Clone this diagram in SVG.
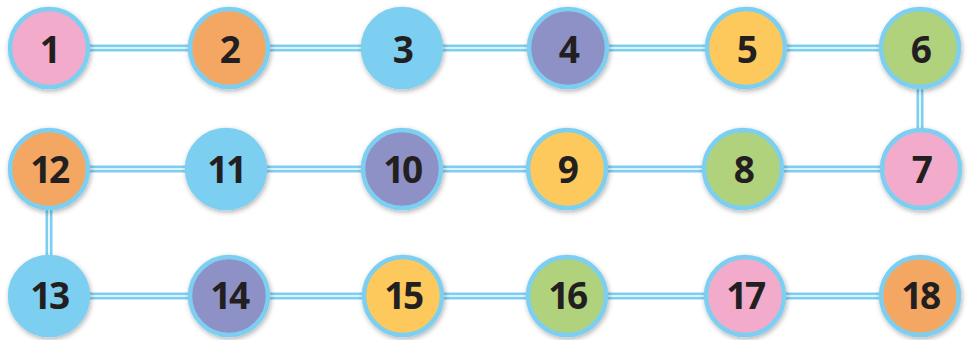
<svg xmlns="http://www.w3.org/2000/svg" width="970" height="340" viewBox="0 0 970 340">
<style>
.n{stroke:#7dcff2;stroke-width:4.5;filter:url(#sh)}
.t{font-family:"Open Sans","DejaVu Sans",sans-serif;font-weight:bold;font-size:37px;letter-spacing:-2.5px;fill:#231f20;text-anchor:middle}
.c1{stroke:#7dcff2;stroke-width:7;fill:none}
.c2{stroke:#ffffff;stroke-width:1.6;fill:none}
.pink{fill:#f3abcc}.orange{fill:#f4a764}.blue{fill:#7dcff2}.purple{fill:#8e91c6}.yellow{fill:#fdc95c}.green{fill:#b0d27b}
</style>
<defs>
<filter id="sh" x="-30%" y="-30%" width="160%" height="160%">
<feDropShadow dx="1" dy="2" stdDeviation="2.5" flood-color="#000" flood-opacity="0.3"/>
</filter>
</defs>
<g id="connectors">
<path class="c1" d="M49,48H920M920,48V169M49,169H920M49,169V296M49,296H920"/>
<path class="c2" d="M49,48H920M920,48V169M49,169H920M49,169V296M49,296H920"/>
</g>
<g id="n1"><circle class="n pink" cx="49" cy="48" r="39"/><text class="t" x="49" y="63">1</text></g>
<g id="n2"><circle class="n orange" cx="229" cy="48" r="39"/><text class="t" x="229" y="63">2</text></g>
<g id="n3"><circle class="n blue" cx="402" cy="48" r="39"/><text class="t" x="402" y="63">3</text></g>
<g id="n4"><circle class="n purple" cx="568" cy="48" r="39"/><text class="t" x="568" y="63">4</text></g>
<g id="n5"><circle class="n yellow" cx="746" cy="48" r="39"/><text class="t" x="746" y="63">5</text></g>
<g id="n6"><circle class="n green" cx="920" cy="48" r="39"/><text class="t" x="920" y="63">6</text></g>
<g id="n7"><circle class="n pink" cx="921" cy="169" r="39"/><text class="t" x="921" y="183">7</text></g>
<g id="n8"><circle class="n green" cx="743" cy="169" r="39"/><text class="t" x="743" y="183">8</text></g>
<g id="n9"><circle class="n yellow" cx="567" cy="169" r="39"/><text class="t" x="567" y="183">9</text></g>
<g id="n10"><circle class="n purple" cx="402" cy="169" r="39"/><text class="t" x="402" y="183">10</text></g>
<g id="n11"><circle class="n blue" cx="226" cy="169" r="39"/><text class="t" x="226" y="183">11</text></g>
<g id="n12"><circle class="n orange" cx="49" cy="169" r="39"/><text class="t" x="49" y="183">12</text></g>
<g id="n13"><circle class="n blue" cx="49" cy="296" r="39"/><text class="t" x="49" y="309">13</text></g>
<g id="n14"><circle class="n purple" cx="229" cy="296" r="39"/><text class="t" x="229" y="309">14</text></g>
<g id="n15"><circle class="n yellow" cx="403" cy="296" r="39"/><text class="t" x="403" y="309">15</text></g>
<g id="n16"><circle class="n green" cx="567" cy="296" r="39"/><text class="t" x="567" y="309">16</text></g>
<g id="n17"><circle class="n pink" cx="745" cy="296" r="39"/><text class="t" x="745" y="309">17</text></g>
<g id="n18"><circle class="n orange" cx="920" cy="296" r="39"/><text class="t" x="920" y="309">18</text></g>
</svg>
